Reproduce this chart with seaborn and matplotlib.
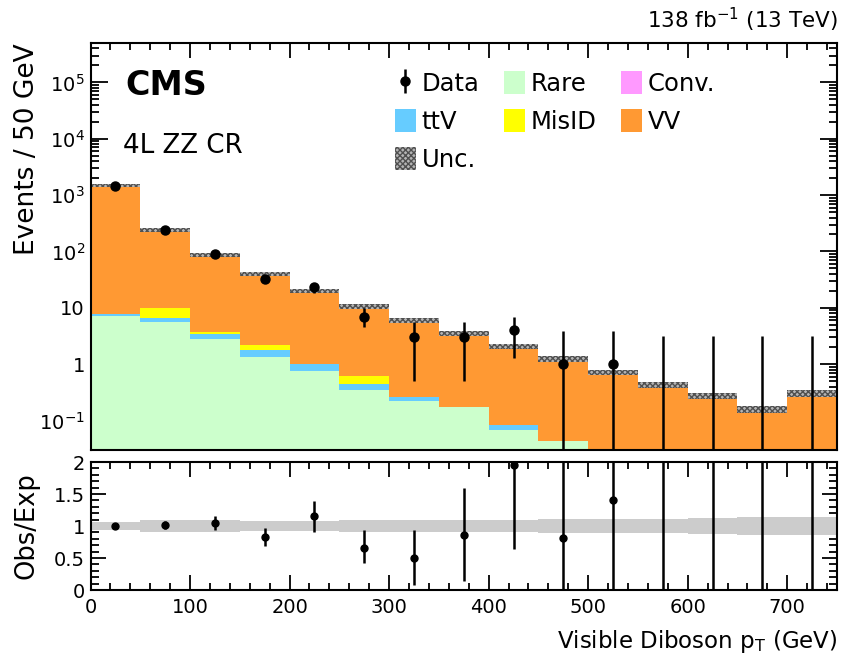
import numpy as np
import pandas as pd
import matplotlib
matplotlib.use("Agg")
import matplotlib.pyplot as plt
import seaborn as sns
from matplotlib.patches import Patch
from matplotlib.ticker import FixedLocator, MultipleLocator, FuncFormatter, NullFormatter

# ---------- DATA ----------

bin_edges = [0, 50, 100, 150, 200, 250, 300, 350, 400, 450, 500, 550, 600, 650, 700, 750]
bin_centers = [25, 75, 125, 175, 225, 275, 325, 375, 425, 475, 525, 575, 625, 675, 725]

# stacked expectation per bin (events / 50 GeV)
rare = [7.3, 5.7, 2.8, 1.35, 0.77, 0.35, 0.22, 0.173, 0.069, 0.044, 0, 0, 0, 0, 0]
ttv = [0.5, 0.85, 0.63, 0.45, 0.23, 0.09, 0.04, 0, 0.013, 0, 0, 0, 0, 0, 0]
misid = [0, 3.3, 0.3, 0.38, 0, 0.17, 0, 0, 0, 0, 0, 0, 0, 0, 0]
conv = [0, 0, 0, 0, 0, 0, 0, 0, 0, 0, 0, 0, 0, 0, 0]
vv = [1482, 232, 82.3, 37.8, 19.0, 9.99, 5.74, 3.33, 1.97, 1.19, 0.71, 0.43, 0.27, 0.158, 0.31]

# relative uncertainty of the expectation
unc_frac = [0.055, 0.09, 0.09, 0.085, 0.085, 0.09, 0.09, 0.10, 0.10, 0.11, 0.11, 0.11, 0.12, 0.14, 0.14]

# observed data and error bar ends
data_obs = [1480, 245, 90, 33, 23, 7, 3, 3, 4, 1, 1, 0, 0, 0, 0]
data_lo = [1442, 229, 81, 27.3, 18.2, 4.5, 0.5, 0.5, 1.3, 0, 0, 0, 0, 0, 0]
data_hi = [1518, 261, 100, 38.7, 27.8, 9.9, 5.6, 5.6, 6.8, 3.9, 3.9, 3.2, 3.2, 3.2, 3.2]

main_ticks = [0.1, 1, 10, 100, 1000, 1e4, 1e5]
main_tick_labels = [r"$10^{-1}$", "1", "10", r"$10^{2}$", r"$10^{3}$", r"$10^{4}$", r"$10^{5}$"]

colors = {
    "Rare": "#ccffcc",
    "ttV": "#66ccff",
    "MisID": "#ffff00",
    "Conv.": "#ff99ff",
    "VV": "#ff9933",
}

# ---------- STYLE ----------

sns.set_style("ticks")
plt.rcParams["font.family"] = ["DejaVu Sans"]
plt.rcParams["mathtext.fontset"] = "dejavusans"
plt.rcParams["axes.linewidth"] = 1.5
plt.rcParams["hatch.linewidth"] = 1.0
for key in ["text.color", "axes.labelcolor", "xtick.color", "ytick.color", "axes.edgecolor"]:
    plt.rcParams[key] = "black"

W, H = 843, 658
fig = plt.figure(figsize=(W / 100, H / 100), dpi=100)

def fx(px):
    return px / W

def fy(py):
    return 1 - py / H

ax = fig.add_axes([fx(90.5), fy(450), fx(837) - fx(90.5), fy(43) - fy(450)])
axr = fig.add_axes([fx(90.5), fy(590), fx(837) - fx(90.5), fy(462) - fy(590)], sharex=ax)

# ---------- MAIN PANEL ----------

ax.set_yscale("log")

rows = []
for name, vals in [("VV", vv), ("Conv.", conv), ("MisID", misid), ("ttV", ttv), ("Rare", rare)]:
    for c, v in zip(bin_centers, vals):
        rows.append({"pt": c, "w": v, "proc": name})
df = pd.DataFrame(rows)

# seaborn stacks the last hue level at the bottom
hue_order = ["VV", "Conv.", "MisID", "ttV", "Rare"]
sns.histplot(data=df, x="pt", weights="w", hue="proc", hue_order=hue_order,
             multiple="stack", bins=bin_edges, element="bars", palette=colors,
             alpha=1, linewidth=0, legend=False, ax=ax)

centers = np.array(bin_centers, dtype=float)
total = np.array(rare) + np.array(ttv) + np.array(misid) + np.array(conv) + np.array(vv)
unc = np.array(unc_frac)
ax.bar(centers, 2 * unc * total, bottom=total * (1 - unc), width=50,
       facecolor="#b4b4b4", edgecolor="#505050", hatch="xxxxxx", linewidth=0)

obs = np.array(data_obs, dtype=float)
lo = np.array(data_lo, dtype=float)
hi = np.array(data_hi, dtype=float)
nz = obs > 0
lo_plot = np.where(lo > 0, lo, 1e-4)
h_data = ax.errorbar(centers[nz], obs[nz], yerr=[obs[nz] - lo_plot[nz], hi[nz] - obs[nz]],
                     fmt="o", color="black", markersize=6.5, elinewidth=1.8, capsize=0)
ax.vlines(centers[~nz], 1e-4, hi[~nz], color="black", linewidth=1.8)

ax.set_xlim(0, 750)
ax.set_ylim(0.03, 5e5)
ax.set_ylabel("Events / 50 GeV", fontsize=19, loc="top")
ax.yaxis.set_label_coords(-0.068, 1.0)
ax.set_xlabel("")

minor = [m * 10.0 ** e for e in range(-2, 6) for m in range(2, 10) if 0.03 <= m * 10.0 ** e <= 5e5]
ax.yaxis.set_major_locator(FixedLocator(main_ticks))
ax.yaxis.set_major_formatter(FuncFormatter(lambda v, p: main_tick_labels[p] if p is not None and p < len(main_tick_labels) else ""))
ax.yaxis.set_minor_locator(FixedLocator(minor))
ax.yaxis.set_minor_formatter(NullFormatter())
ax.xaxis.set_major_locator(MultipleLocator(100))
ax.xaxis.set_minor_locator(MultipleLocator(20))
ax.tick_params(axis="both", which="both", direction="in", top=True, right=True, width=1.3)
ax.tick_params(axis="y", which="major", length=12)
ax.tick_params(axis="y", which="minor", length=6)
ax.tick_params(axis="x", which="major", length=11)
ax.tick_params(axis="x", which="minor", length=5)
ax.tick_params(axis="y", labelsize=14, pad=4)
ax.tick_params(axis="x", labelbottom=False)

# legend
p_rare = Patch(facecolor=colors["Rare"], linewidth=0)
p_ttv = Patch(facecolor=colors["ttV"], linewidth=0)
p_misid = Patch(facecolor=colors["MisID"], linewidth=0)
p_conv = Patch(facecolor=colors["Conv."], linewidth=0)
p_vv = Patch(facecolor=colors["VV"], linewidth=0)
p_unc = Patch(facecolor="#b4b4b4", edgecolor="#505050", hatch="xxxxxx", linewidth=0)
handles = [h_data, p_ttv, p_unc, p_rare, p_misid, p_conv, p_vv]
labels = ["Data", "ttV", "Unc.", "Rare", "MisID", "Conv.", "VV"]
ax.legend(handles, labels, ncol=3, loc="upper left",
          bbox_to_anchor=(fx(395), fy(71)), bbox_transform=fig.transFigure,
          frameon=False, fontsize=17.5, handlelength=0.86, handleheight=1.11,
          handletextpad=0.23, columnspacing=1.02, labelspacing=0.53,
          borderpad=0, borderaxespad=0)

fig.text(fx(125), fy(95), "CMS", fontsize=24, fontweight="bold", va="baseline")
fig.text(fx(123), fy(153.3), "4L ZZ CR", fontsize=18.8, va="baseline")
fig.text(fx(838), fy(28), r"138 fb$^{-1}$ (13 TeV)", fontsize=15.5, ha="right", va="baseline")

# ---------- RATIO PANEL ----------

axr.bar(centers, 2 * unc, bottom=1 - unc, width=50, color="#cccccc", linewidth=0)
ratio = obs / total
r_lo = np.where(lo > 0, lo / total, 0.0)
r_hi = hi / total
axr.errorbar(centers[nz], ratio[nz], yerr=[ratio[nz] - r_lo[nz], r_hi[nz] - ratio[nz]],
             fmt="o", color="black", markersize=5, elinewidth=1.8, capsize=0)
axr.vlines(centers[~nz], 0, r_hi[~nz], color="black", linewidth=1.8)

axr.set_ylim(0, 2)
axr.set_xlim(0, 750)
axr.set_ylabel("Obs/Exp", fontsize=18.5)
axr.yaxis.set_label_coords(-0.068, 0.5)
axr.set_xlabel(r"Visible Diboson p$_\mathregular{T}$ (GeV)", fontsize=16.5, loc="right")
axr.xaxis.set_label_coords(1.0, -0.3)
axr.yaxis.set_major_locator(FixedLocator([0, 0.5, 1, 1.5, 2]))
axr.yaxis.set_minor_locator(MultipleLocator(0.1))
axr.yaxis.set_major_formatter(FuncFormatter(lambda v, p: "%g" % v))
axr.xaxis.set_major_locator(FixedLocator([0, 100, 200, 300, 400, 500, 600, 700]))
axr.xaxis.set_minor_locator(MultipleLocator(20))
axr.tick_params(axis="both", which="both", direction="in", top=True, right=True, width=1.3)
axr.tick_params(axis="y", which="major", length=11)
axr.tick_params(axis="y", which="minor", length=6)
axr.tick_params(axis="x", which="major", length=11)
axr.tick_params(axis="x", which="minor", length=5)
axr.tick_params(axis="both", labelsize=14, pad=4)
axr.tick_params(axis="x", pad=6)

fig.savefig("out.png", dpi=100)
